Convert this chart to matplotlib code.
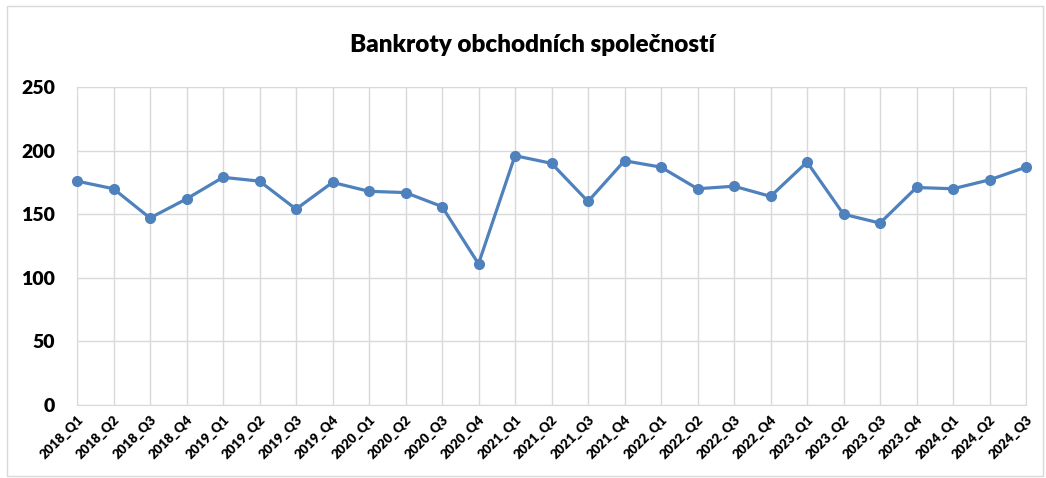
import numpy as np
import matplotlib.pyplot as plt
from matplotlib.patches import Rectangle

quarters = [
    "2018_Q1", "2018_Q2", "2018_Q3", "2018_Q4",
    "2019_Q1", "2019_Q2", "2019_Q3", "2019_Q4",
    "2020_Q1", "2020_Q2", "2020_Q3", "2020_Q4",
    "2021_Q1", "2021_Q2", "2021_Q3", "2021_Q4",
    "2022_Q1", "2022_Q2", "2022_Q3", "2022_Q4",
    "2023_Q1", "2023_Q2", "2023_Q3", "2023_Q4",
    "2024_Q1", "2024_Q2", "2024_Q3",
]
bankruptcies = [
    176, 170, 147, 162,
    179, 176, 154, 175,
    168, 167, 156, 111,
    196, 190, 160, 192,
    187, 170, 172, 164,
    191, 150, 143, 171,
    170, 177, 187,
]
y_ticks = [0, 50, 100, 150, 200, 250]

TITLE = "Bankroty obchodních společností"
LINE_COLOR = "#4F81BD"
GRID_COLOR = "#D9D9D9"

plt.rcParams['font.family'] = ['Lato', 'DejaVu Sans']

fig = plt.figure(figsize=(10.46, 4.78), dpi=100)
ax = fig.add_axes([77 / 1046, 73 / 478, 949 / 1046, 318 / 478])

x = np.arange(len(quarters))
ax.plot(x, bankruptcies, color=LINE_COLOR, linewidth=2.3, marker='o',
        markersize=7, zorder=3, clip_on=False)

ax.set_xlim(0, len(quarters) - 1)
ax.set_ylim(0, 250)
ax.set_yticks(y_ticks)
ax.set_xticks(x)
ax.set_xticklabels(quarters, rotation=45, ha='right', rotation_mode='anchor',
                   fontsize=9.5, fontweight='heavy')
ax.tick_params(axis='x', length=0, pad=6)
ax.tick_params(axis='y', length=0, pad=16, labelsize=14)
for lbl in ax.get_yticklabels():
    lbl.set_fontweight('heavy')

ax.grid(True, color=GRID_COLOR, linewidth=1)
ax.set_axisbelow(True)
for side in ax.spines.values():
    side.set_color(GRID_COLOR)

fig.text(532 / 1046, 1 - 45 / 478, TITLE, ha='center', va='center',
         fontsize=17.5, fontweight='heavy')

# light chart border like the spreadsheet frame
fig.patches.append(Rectangle((7 / 1046, 2 / 478), 1036 / 1046, 470 / 478,
                             transform=fig.transFigure, fill=False,
                             edgecolor=GRID_COLOR, linewidth=1))

fig.savefig("out.png", dpi=100)
